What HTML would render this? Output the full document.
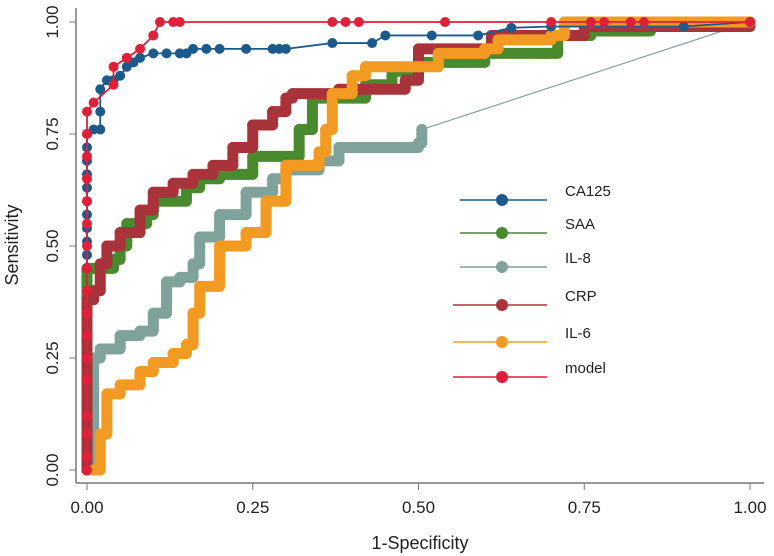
<!DOCTYPE html>
<html><head><meta charset="utf-8"><style>
body{margin:0;background:#fff}
svg{display:block;font-family:"Liberation Sans",sans-serif}
</style></head><body>
<svg id="chart" width="774" height="556">
<rect width="774" height="556" fill="#fff"/>
<g id="axes"></g><g id="series"></g><g id="legend"></g>
</svg>
<script>
const names=["CA125","SAA","IL-8","CRP","IL-6","model"];
const colors=["#1d5a8c","#4a8a2e","#7fa39b","#a8333a","#f39a22","#e01f3a"];
const xTicks=[0,0.25,0.5,0.75,1];
const yTicks=[0,0.25,0.5,0.75,1];
const ca125Fpr=[0,0,0,0,0,0,0,0,0,0,0,0.01,0.02,0.02,0.02,0.03,0.04,0.05,0.06,0.07,0.08,0.1,0.12,0.14,0.15,0.16,0.18,0.2,0.24,0.28,0.29,0.3,0.37,0.43,0.45,0.52,0.59,0.64,0.7,0.9,1];
const ca125Tpr=[0.45,0.48,0.51,0.54,0.57,0.6,0.63,0.66,0.69,0.72,0.75,0.76,0.76,0.8,0.85,0.87,0.87,0.88,0.9,0.91,0.92,0.93,0.93,0.93,0.93,0.94,0.94,0.94,0.94,0.94,0.94,0.94,0.953,0.953,0.97,0.97,0.97,0.987,0.99,0.99,1];
const saaFpr=[0,0,0,0,0.01,0.04,0.05,0.06,0.09,0.1,0.15,0.17,0.2,0.25,0.3,0.32,0.34,0.39,0.42,0.46,0.5,0.6,0.69,0.71,0.76,0.85,1];
const saaTpr=[0,0.15,0.3,0.45,0.45,0.47,0.5,0.55,0.57,0.6,0.63,0.65,0.66,0.7,0.7,0.76,0.83,0.83,0.86,0.89,0.91,0.93,0.93,0.97,0.98,0.99,1];
const il8Fpr=[0.01,0.01,0.01,0.02,0.05,0.08,0.1,0.12,0.14,0.16,0.17,0.2,0.24,0.28,0.3,0.35,0.38,0.46,0.5,0.505,1];
const il8Tpr=[0,0.12,0.25,0.27,0.3,0.31,0.35,0.42,0.43,0.46,0.52,0.57,0.62,0.65,0.67,0.69,0.72,0.72,0.73,0.76,1];
const crpFpr=[0,0,0,0,0.01,0.02,0.03,0.05,0.08,0.1,0.13,0.16,0.19,0.22,0.25,0.28,0.3,0.31,0.37,0.38,0.48,0.5,0.6,0.61,0.72,0.75,0.93,1];
const crpTpr=[0,0.13,0.26,0.38,0.4,0.46,0.5,0.53,0.58,0.62,0.64,0.66,0.68,0.72,0.77,0.8,0.83,0.84,0.84,0.85,0.87,0.94,0.94,0.97,0.97,0.99,0.99,1];
const il6Fpr=[0.01,0.02,0.03,0.05,0.08,0.1,0.13,0.15,0.16,0.17,0.2,0.2,0.24,0.27,0.3,0.35,0.36,0.37,0.4,0.42,0.5,0.53,0.6,0.62,0.7,0.72,1];
const il6Tpr=[0,0.08,0.17,0.19,0.22,0.24,0.26,0.28,0.35,0.41,0.43,0.5,0.53,0.6,0.68,0.71,0.76,0.84,0.88,0.9,0.9,0.93,0.94,0.96,0.97,1,1];
const modelFpr=[0,0,0,0,0,0,0,0,0,0,0,0,0,0,0,0,0,0.01,0.04,0.04,0.06,0.08,0.1,0.11,0.13,0.14,0.37,0.39,0.41,0.54,0.7,0.76,0.78,0.82,0.84,1];
const modelTpr=[0,0.03,0.08,0.12,0.2,0.25,0.3,0.35,0.4,0.45,0.5,0.55,0.6,0.65,0.7,0.75,0.8,0.82,0.86,0.9,0.92,0.94,0.97,1,1,1,1,1,1,1,1,1,1,1,1,1];
const fprs=[ca125Fpr,saaFpr,il8Fpr,crpFpr,il6Fpr,modelFpr];
const tprs=[ca125Tpr,saaTpr,il8Tpr,crpTpr,il6Tpr,modelTpr];
const thick=[false,true,true,true,true,false];
const order=[1,2,3,4,0,5];
const NS="http://www.w3.org/2000/svg";
const X=v=>87+v*663, Y=v=>470-v*448;
function mk(t,a,p){const e=document.createElementNS(NS,t);for(const k in a)e.setAttribute(k,a[k]);p.appendChild(e);return e;}
const ax=document.getElementById('axes');
const yl=mk('line',{x1:76,y1:8,x2:76,y2:483,stroke:'#777','stroke-width':1.5},ax);


const xl=mk('line',{x1:76,y1:483,x2:764,y2:483,stroke:'#777','stroke-width':1.5},ax);


xTicks.forEach(v=>{mk('line',{x1:X(v),y1:483,x2:X(v),y2:490,stroke:'#777'},ax);
const t=mk('text',{x:X(v),y:513,'text-anchor':'middle','font-size':17,fill:'#222'},ax);t.textContent=v.toFixed(2);

});
yTicks.forEach(v=>{mk('line',{x1:69,y1:Y(v),x2:76,y2:Y(v),stroke:'#777'},ax);
const t=mk('text',{x:0,y:0,transform:`translate(58,${Y(v)}) rotate(-90)`,'text-anchor':'middle','font-size':17,fill:'#222'},ax);t.textContent=v.toFixed(2);

});
const xt=mk('text',{x:420,y:549,'text-anchor':'middle','font-size':18,fill:'#222'},ax);xt.textContent='1-Specificity';


const yt=mk('text',{x:0,y:0,transform:'translate(18,245) rotate(-90)','text-anchor':'middle','font-size':18,fill:'#222'},ax);yt.textContent='Sensitivity';


const sg=document.getElementById('series');
order.forEach(i=>{const g=mk('g',{},sg);


const fx=fprs[i],ty=tprs[i];
let n=fx.length;
if(i===2){
  mk('line',{x1:X(fx[n-2]),y1:Y(ty[n-2]),x2:X(fx[n-1]),y2:Y(ty[n-1]),stroke:colors[i],'stroke-width':1.2},g);
  n=n-1;
}
let pts=[];
for(let j=0;j<n;j++){
  if(thick[i]&&j>0){pts.push(X(fx[j])+','+Y(ty[j-1]));}
  pts.push(X(fx[j])+','+Y(ty[j]));
}
mk('polyline',{points:pts.join(' '),fill:'none',stroke:colors[i],'stroke-width':thick[i]?11:1.8,'stroke-linejoin':'round','stroke-linecap':'round'},g);
fx.forEach((f,j)=>{const c=mk('circle',{cx:X(f),cy:Y(ty[j]),r:thick[i]?5.5:5,fill:colors[i]},g);

});});
const lg=document.getElementById('legend');
const ly=[200,233,267,305,342,377],lx1=[460,460,460,453,453,453];
names.forEach((n,i)=>{const g=mk('g',{},lg);


mk('line',{x1:lx1[i],y1:ly[i],x2:547,y2:ly[i],stroke:colors[i],'stroke-width':1.5},g);
mk('circle',{cx:502,cy:ly[i],r:6,fill:colors[i]},g);
const t=mk('text',{x:565,y:ly[i]-4,'font-size':15,fill:'#222'},g);t.textContent=n;});
</script>
</body></html>
